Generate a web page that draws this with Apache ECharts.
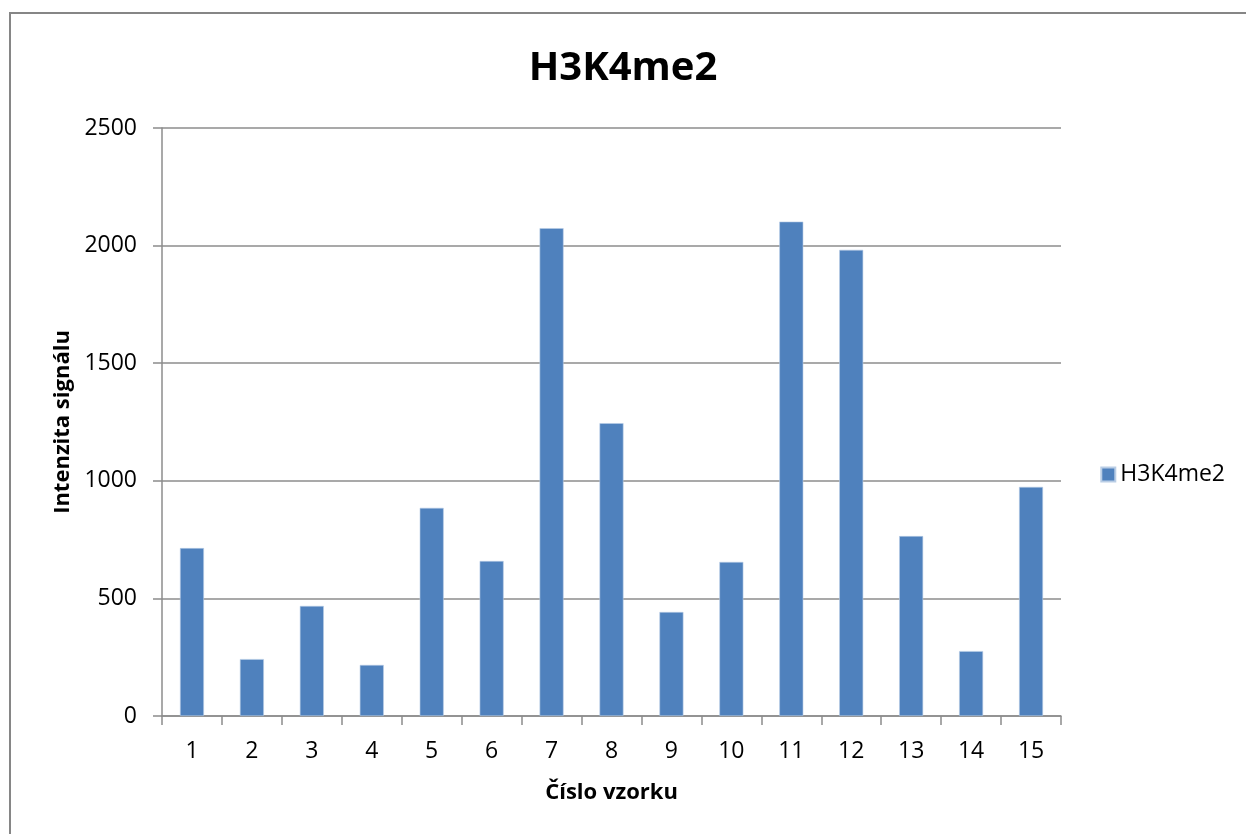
<!DOCTYPE html>
<html>
<head>
<meta charset="utf-8">
<script src="https://cdn.jsdelivr.net/npm/echarts@6/dist/echarts.min.js"></script>
<style>
html,body{margin:0;padding:0;background:#fff;}
#c{width:1246px;height:834px;}
</style>
</head>
<body>
<div id="c"></div>
<script>
const categories = ['1','2','3','4','5','6','7','8','9','10','11','12','13','14','15'];
const seriesName = 'H3K4me2';
const values = [714, 242, 468, 217, 885, 659, 2074, 1245, 442, 655, 2102, 1982, 765, 276, 974];
const yTicks = { min: 0, max: 2500, interval: 500 };
const titleText = 'H3K4me2';
const xName = 'Číslo vzorku';
const yName = 'Intenzita signálu';

const FONT = '"Open Sans", sans-serif';
const chart = echarts.init(document.getElementById('c'), null, { renderer: 'canvas' });
chart.setOption({
  animation: false,
  backgroundColor: '#fff',
  textStyle: { fontFamily: FONT },
  graphic: [{
    type: 'rect',
    shape: { x: 10, y: 13, width: 1400, height: 1000 },
    style: { fill: 'none', stroke: '#868686', lineWidth: 2 },
    z: 100
  }],
  title: {
    text: titleText,
    left: 'center',
    top: 44,
    textStyle: { fontFamily: FONT, fontWeight: 'bold', fontSize: 40, color: '#000' }
  },
  legend: {
    data: [seriesName],
    right: 16,
    top: 458,
    orient: 'vertical',
    itemWidth: 14,
    itemHeight: 14,
    itemGap: 8,
    icon: 'rect',
    textStyle: { fontFamily: FONT, fontSize: 23, color: '#000' }
  },
  grid: { left: 162, right: 185, top: 128, bottom: 118, containLabel: false },
  xAxis: {
    type: 'category',
    data: categories,
    boundaryGap: true,
    name: xName,
    nameLocation: 'middle',
    nameGap: 66,
    nameTextStyle: { fontFamily: FONT, fontWeight: 'bold', fontSize: 22, color: '#000' },
    axisLine: { show: true, lineStyle: { color: '#8c8c8c', width: 1.5 } },
    axisTick: { show: true, length: 9, alignWithLabel: false, lineStyle: { color: '#8c8c8c', width: 1.5 } },
    axisLabel: { fontFamily: FONT, fontSize: 23, color: '#000', margin: 24 },
    splitLine: { show: false }
  },
  yAxis: {
    type: 'value',
    min: yTicks.min,
    max: yTicks.max,
    interval: yTicks.interval,
    name: yName,
    nameLocation: 'middle',
    nameGap: 88,
    nameRotate: 90,
    nameTextStyle: { fontFamily: FONT, fontWeight: 'bold', fontSize: 22, color: '#000' },
    axisLine: { show: true, lineStyle: { color: '#8c8c8c', width: 1.5 } },
    axisTick: { show: true, length: 9, lineStyle: { color: '#8c8c8c', width: 1.5 } },
    axisLabel: { fontFamily: FONT, fontSize: 23, color: '#000', margin: 25, formatter: function (v) { return String(v); } },
    splitLine: { show: true, lineStyle: { color: '#8c8c8c', width: 1.5 } }
  },
  series: [{
    name: seriesName,
    type: 'bar',
    data: values,
    barCategoryGap: '60%',
    itemStyle: { color: '#4F81BD', borderColor: '#B9CDE5', borderWidth: 0.6 }
  }]
});
</script>
</body>
</html>
